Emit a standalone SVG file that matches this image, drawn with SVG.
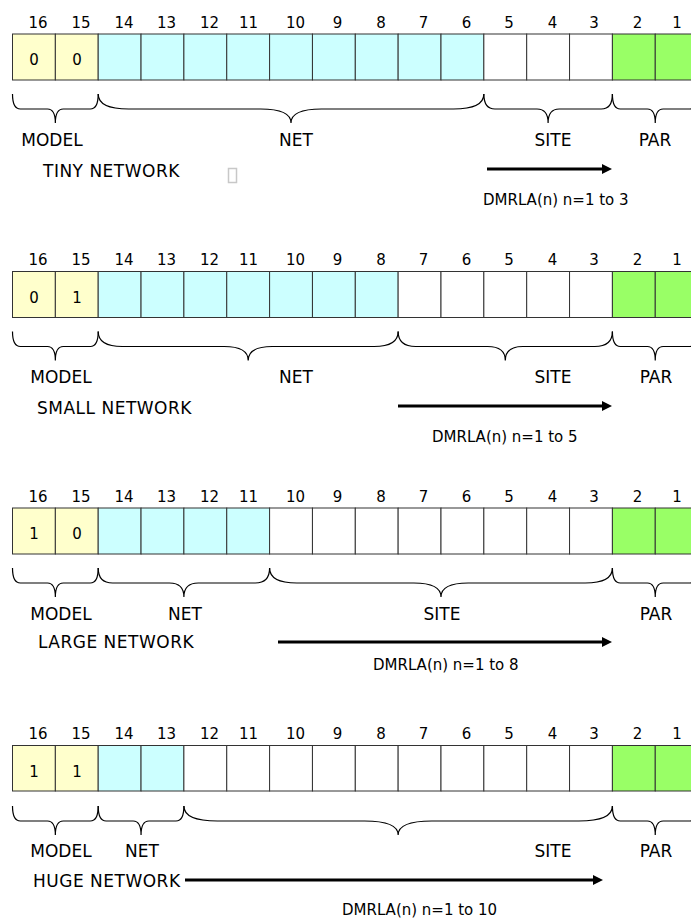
<svg xmlns="http://www.w3.org/2000/svg" width="691" height="918" viewBox="0 0 691 918">
<style>
text{font-family:"DejaVu Sans",sans-serif;fill:#000}
.num{font-size:15px;text-anchor:middle}
.val{font-size:15px;text-anchor:middle}
.lbl{font-size:17px;text-anchor:middle}
.net{font-size:17px;letter-spacing:0.5px}
.dm{font-size:15px}
.y{fill:#FFFFCC;stroke:#333;stroke-width:1}
.c{fill:#CCFFFF;stroke:#333;stroke-width:1}
.w{fill:#FFFFFF;stroke:#333;stroke-width:1}
.g{fill:#99FF66;stroke:#333;stroke-width:1}
.br{fill:none;stroke:#000;stroke-width:1.2}
.arr{stroke:#000;stroke-width:3.2;fill:none;marker-end:url(#ah)}
</style>
<defs>
<marker id="ah" markerUnits="userSpaceOnUse" markerWidth="12" markerHeight="10" refX="1" refY="5" orient="auto">
<path d="M0,0 L10,5 L0,10 z" fill="#000"/>
</marker>
<g id="nums">
<text class="num" x="38">16</text><text class="num" x="81">15</text><text class="num" x="124">14</text><text class="num" x="166.5">13</text><text class="num" x="209.5">12</text><text class="num" x="248.5">11</text><text class="num" x="295.5">10</text><text class="num" x="337.5">9</text><text class="num" x="381">8</text><text class="num" x="423.5">7</text><text class="num" x="466.5">6</text><text class="num" x="509">5</text><text class="num" x="552.5">4</text><text class="num" x="594">3</text><text class="num" x="637.5">2</text><text class="num" x="677">1</text>
</g>
</defs>

<!-- TINY NETWORK -->
<g id="tiny">
<use href="#nums" y="28"/>
<rect class="y" x="12.5" y="34" width="42.85" height="46"/>
<rect class="y" x="55.35" y="34" width="42.85" height="46"/>
<rect class="c" x="98.2" y="34" width="42.85" height="46"/>
<rect class="c" x="141.05" y="34" width="42.85" height="46"/>
<rect class="c" x="183.9" y="34" width="42.85" height="46"/>
<rect class="c" x="226.75" y="34" width="42.85" height="46"/>
<rect class="c" x="269.6" y="34" width="42.85" height="46"/>
<rect class="c" x="312.45" y="34" width="42.85" height="46"/>
<rect class="c" x="355.3" y="34" width="42.85" height="46"/>
<rect class="c" x="398.15" y="34" width="42.85" height="46"/>
<rect class="c" x="441" y="34" width="42.85" height="46"/>
<rect class="w" x="483.85" y="34" width="42.85" height="46"/>
<rect class="w" x="526.7" y="34" width="42.85" height="46"/>
<rect class="w" x="569.55" y="34" width="42.85" height="46"/>
<rect class="g" x="612.4" y="34" width="42.85" height="46"/>
<rect class="g" x="655.25" y="34" width="42.85" height="46"/>
<text class="val" x="34" y="65">0</text>
<text class="val" x="77" y="65">0</text>
<path class="br" d="M12.5,94 Q12.5,109 20.4,109 L47.45,109 Q55.35,109 55.35,123 Q55.35,109 63.25,109 L90.3,109 Q98.2,109 98.2,94"/>
<path class="br" d="M98.2,94 Q98.2,109 128.6,109 L260.6,109 Q291,109 291,123 Q291,109 321.4,109 L453.45,109 Q483.85,109 483.85,94"/>
<path class="br" d="M483.85,94 Q483.85,109 494.95,109 L537,109 Q548.1,109 548.1,123 Q548.1,109 559.2,109 L601.3,109 Q612.4,109 612.4,94"/>
<path class="br" d="M612.4,94 Q612.4,109 620.3,109 L647.35,109 Q655.25,109 655.25,123 Q655.25,109 663.15,109 L690.2,109 Q698.1,109 698.1,94"/>
<text class="lbl" x="52" y="146">MODEL</text>
<text class="lbl" x="296" y="146">NET</text>
<text class="lbl" x="553" y="146">SITE</text>
<text class="lbl" x="655" y="146">PAR</text>
<text class="net" x="43" y="177">TINY NETWORK</text>
<rect x="228.5" y="168.5" width="8" height="14" fill="none" stroke="#c8c8c8" stroke-width="1.5"/>
<text class="dm" x="483" y="205">DMRLA(n) n=1 to 3</text>
</g>

<!-- SMALL NETWORK -->
<g id="small">
<use href="#nums" y="265"/>
<rect class="y" x="12.5" y="271.5" width="42.85" height="46"/>
<rect class="y" x="55.35" y="271.5" width="42.85" height="46"/>
<rect class="c" x="98.2" y="271.5" width="42.85" height="46"/>
<rect class="c" x="141.05" y="271.5" width="42.85" height="46"/>
<rect class="c" x="183.9" y="271.5" width="42.85" height="46"/>
<rect class="c" x="226.75" y="271.5" width="42.85" height="46"/>
<rect class="c" x="269.6" y="271.5" width="42.85" height="46"/>
<rect class="c" x="312.45" y="271.5" width="42.85" height="46"/>
<rect class="c" x="355.3" y="271.5" width="42.85" height="46"/>
<rect class="w" x="398.15" y="271.5" width="42.85" height="46"/>
<rect class="w" x="441" y="271.5" width="42.85" height="46"/>
<rect class="w" x="483.85" y="271.5" width="42.85" height="46"/>
<rect class="w" x="526.7" y="271.5" width="42.85" height="46"/>
<rect class="w" x="569.55" y="271.5" width="42.85" height="46"/>
<rect class="g" x="612.4" y="271.5" width="42.85" height="46"/>
<rect class="g" x="655.25" y="271.5" width="42.85" height="46"/>
<text class="val" x="34" y="303">0</text>
<text class="val" x="77" y="303">1</text>
<path class="br" d="M12.5,331.5 Q12.5,346.5 20.4,346.5 L47.45,346.5 Q55.35,346.5 55.35,360.5 Q55.35,346.5 63.25,346.5 L90.3,346.5 Q98.2,346.5 98.2,331.5"/>
<path class="br" d="M98.2,331.5 Q98.2,346.5 122.2,346.5 L224.2,346.5 Q248.2,346.5 248.2,360.5 Q248.2,346.5 272.2,346.5 L374.15,346.5 Q398.15,346.5 398.15,331.5"/>
<path class="br" d="M398.15,331.5 Q398.15,346.5 415.75,346.5 L487.7,346.5 Q505.3,346.5 505.3,360.5 Q505.3,346.5 522.9,346.5 L594.8,346.5 Q612.4,346.5 612.4,331.5"/>
<path class="br" d="M612.4,331.5 Q612.4,346.5 620.3,346.5 L647.35,346.5 Q655.25,346.5 655.25,360.5 Q655.25,346.5 663.15,346.5 L690.2,346.5 Q698.1,346.5 698.1,331.5"/>
<text class="lbl" x="61" y="383">MODEL</text>
<text class="lbl" x="296" y="383">NET</text>
<text class="lbl" x="553" y="383">SITE</text>
<text class="lbl" x="656" y="383">PAR</text>
<text class="net" x="37" y="414">SMALL NETWORK</text>
<text class="dm" x="432" y="442">DMRLA(n) n=1 to 5</text>
</g>

<!-- LARGE NETWORK -->
<g id="large">
<use href="#nums" y="502"/>
<rect class="y" x="12.5" y="508" width="42.85" height="46"/>
<rect class="y" x="55.35" y="508" width="42.85" height="46"/>
<rect class="c" x="98.2" y="508" width="42.85" height="46"/>
<rect class="c" x="141.05" y="508" width="42.85" height="46"/>
<rect class="c" x="183.9" y="508" width="42.85" height="46"/>
<rect class="c" x="226.75" y="508" width="42.85" height="46"/>
<rect class="w" x="269.6" y="508" width="42.85" height="46"/>
<rect class="w" x="312.45" y="508" width="42.85" height="46"/>
<rect class="w" x="355.3" y="508" width="42.85" height="46"/>
<rect class="w" x="398.15" y="508" width="42.85" height="46"/>
<rect class="w" x="441" y="508" width="42.85" height="46"/>
<rect class="w" x="483.85" y="508" width="42.85" height="46"/>
<rect class="w" x="526.7" y="508" width="42.85" height="46"/>
<rect class="w" x="569.55" y="508" width="42.85" height="46"/>
<rect class="g" x="612.4" y="508" width="42.85" height="46"/>
<rect class="g" x="655.25" y="508" width="42.85" height="46"/>
<text class="val" x="34" y="539">1</text>
<text class="val" x="77" y="539">0</text>
<path class="br" d="M12.5,568 Q12.5,583 20.4,583 L47.45,583 Q55.35,583 55.35,597 Q55.35,583 63.25,583 L90.3,583 Q98.2,583 98.2,568"/>
<path class="br" d="M98.2,568 Q98.2,583 112.6,583 L169.5,583 Q183.9,583 183.9,597 Q183.9,583 198.3,583 L255.2,583 Q269.6,583 269.6,568"/>
<path class="br" d="M269.6,568 Q269.6,583 296.8,583 L413.8,583 Q441,583 441,597 Q441,583 468.2,583 L585.2,583 Q612.4,583 612.4,568"/>
<path class="br" d="M612.4,568 Q612.4,583 620.3,583 L647.35,583 Q655.25,583 655.25,597 Q655.25,583 663.15,583 L690.2,583 Q698.1,583 698.1,568"/>
<text class="lbl" x="61" y="620">MODEL</text>
<text class="lbl" x="185" y="620">NET</text>
<text class="lbl" x="442" y="620">SITE</text>
<text class="lbl" x="656" y="620">PAR</text>
<text class="net" x="38" y="648">LARGE NETWORK</text>
<text class="dm" x="373" y="670">DMRLA(n) n=1 to 8</text>
</g>

<!-- HUGE NETWORK -->
<g id="huge">
<use href="#nums" y="739"/>
<rect class="y" x="12.5" y="745.5" width="42.85" height="45.5"/>
<rect class="y" x="55.35" y="745.5" width="42.85" height="45.5"/>
<rect class="c" x="98.2" y="745.5" width="42.85" height="45.5"/>
<rect class="c" x="141.05" y="745.5" width="42.85" height="45.5"/>
<rect class="w" x="183.9" y="745.5" width="42.85" height="45.5"/>
<rect class="w" x="226.75" y="745.5" width="42.85" height="45.5"/>
<rect class="w" x="269.6" y="745.5" width="42.85" height="45.5"/>
<rect class="w" x="312.45" y="745.5" width="42.85" height="45.5"/>
<rect class="w" x="355.3" y="745.5" width="42.85" height="45.5"/>
<rect class="w" x="398.15" y="745.5" width="42.85" height="45.5"/>
<rect class="w" x="441" y="745.5" width="42.85" height="45.5"/>
<rect class="w" x="483.85" y="745.5" width="42.85" height="45.5"/>
<rect class="w" x="526.7" y="745.5" width="42.85" height="45.5"/>
<rect class="w" x="569.55" y="745.5" width="42.85" height="45.5"/>
<rect class="g" x="612.4" y="745.5" width="42.85" height="45.5"/>
<rect class="g" x="655.25" y="745.5" width="42.85" height="45.5"/>
<text class="val" x="34" y="777">1</text>
<text class="val" x="77" y="777">1</text>
<path class="br" d="M12.5,806 Q12.5,821 20.4,821 L47.45,821 Q55.35,821 55.35,835 Q55.35,821 63.25,821 L90.3,821 Q98.2,821 98.2,806"/>
<path class="br" d="M98.2,806 Q98.2,821 106.1,821 L133.15,821 Q141.05,821 141.05,835 Q141.05,821 148.95,821 L176,821 Q183.9,821 183.9,806"/>
<path class="br" d="M183.9,806 Q183.9,821 217.5,821 L364.55,821 Q398.15,821 398.15,835 Q398.15,821 431.75,821 L578.8,821 Q612.4,821 612.4,806"/>
<path class="br" d="M612.4,806 Q612.4,821 620.3,821 L647.35,821 Q655.25,821 655.25,835 Q655.25,821 663.15,821 L690.2,821 Q698.1,821 698.1,806"/>
<text class="lbl" x="61" y="857">MODEL</text>
<text class="lbl" x="142" y="857">NET</text>
<text class="lbl" x="553" y="857">SITE</text>
<text class="lbl" x="656" y="857">PAR</text>
<text class="net" x="33" y="887">HUGE NETWORK</text>
<text class="dm" x="342" y="915">DMRLA(n) n=1 to 10</text>
</g>

<g id="connectors">
<line class="arr" x1="487" y1="169" x2="603" y2="169"/>
<line class="arr" x1="398" y1="406" x2="603" y2="406"/>
<line class="arr" x1="278" y1="642" x2="603" y2="642"/>
<line class="arr" x1="185" y1="880" x2="594" y2="880"/>
</g>
</svg>
